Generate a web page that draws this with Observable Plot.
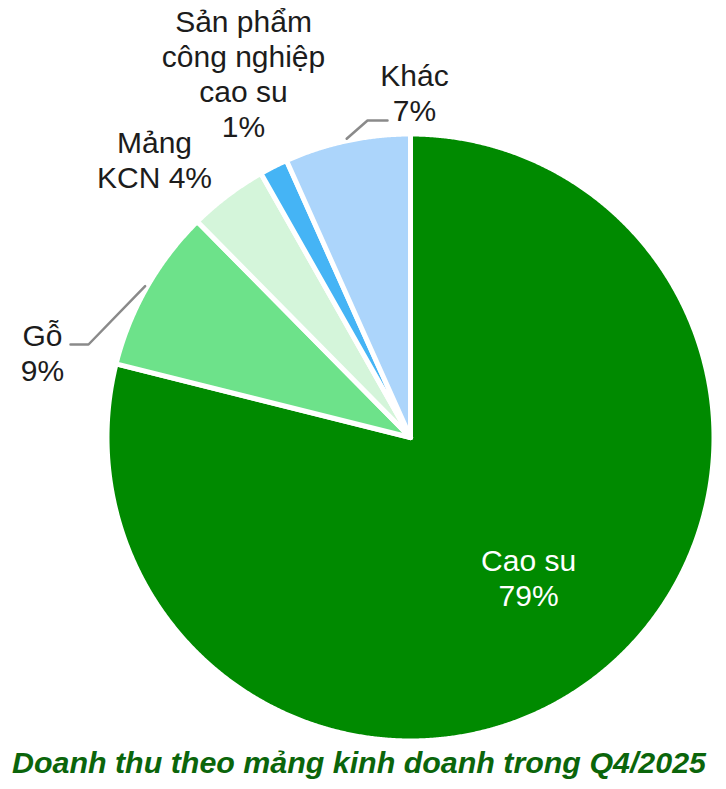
<!DOCTYPE html>
<html>
<head>
<meta charset="utf-8">
<script src="https://cdn.jsdelivr.net/npm/d3@7"></script>
<script src="https://cdn.jsdelivr.net/npm/@observablehq/plot@0.6"></script>
<style>
  html, body { margin: 0; padding: 0; background: #fff; }
  #wrap { width: 726px; }
  #title {
    width: 726px; height: 49px; line-height: 44px; text-align: center;
    font-family: "Liberation Sans", Arial, sans-serif; font-weight: bold; font-style: italic;
    font-size: 30.4px; color: #0b650b; white-space: nowrap; padding-right: 8px; box-sizing: border-box;
  }
</style>
</head>
<body>
<div id="wrap">
  <div id="chart"></div>
  <div id="title">Doanh thu theo mảng kinh doanh trong Q4/2025</div>
</div>
<script>
// ---- data ----
const categories = ["Cao su", "Gỗ", "Mảng KCN", "Sản phẩm công nghiệp cao su", "Khác"];
const values = [78.9, 8.7, 4.2, 1.5, 6.7];
const percentLabels = ["79%", "9%", "4%", "1%", "7%"];
const labelTexts = ["Cao su\n79%", "Gỗ\n9%", "Mảng\nKCN 4%", "Sản phẩm\ncông nghiệp\ncao su\n1%", "Khác\n7%"];
const colors = ["#008a00", "#6de28a", "#d4f5da", "#45b4f5", "#acd5fb"];

// ---- layout (not data) ----
const W = 726, H = 740;
const CX = 410, CY = 437, R = 303.5;
// outer label placement: offset from pie centre (px)
const outerLabelPos = {
  "Gỗ": [-368, -85],
  "Mảng KCN": [-256, -278],
  "Sản phẩm công nghiệp cao su": [-167, -364],
  "Khác": [4, -345]
};
// leader line elbows and ends (offset from centre)
const leaderPath = {
  "Gỗ": [[-322, -93], [-340, -93]],
  "Khác": [[-43, -317], [-23, -317]]
};
const innerLabelDx = 6; // small horizontal nudge for the inner label

const rows = categories.map((name, i) => ({name, value: values[i], pct: percentLabels[i], label: labelTexts[i]}));
const arcs = d3.pie().sort(null).value(d => d.value)(rows);

const pts = [];
for (const a of arcs) {
  const name = a.data.name;
  pts.push({name, x: 0, y: 0});
  const step = Math.PI / 720;
  for (let t = a.startAngle; t < a.endAngle; t += step) {
    pts.push({name, x: R * Math.sin(t), y: -R * Math.cos(t)});
  }
  pts.push({name, x: R * Math.sin(a.endAngle), y: -R * Math.cos(a.endAngle)});
  pts.push({name, x: 0, y: 0});
}

const labels = arcs.map(a => {
  const mid = (a.startAngle + a.endAngle) / 2;
  const name = a.data.name;
  if (outerLabelPos[name]) {
    return {name, text: a.data.label, x: outerLabelPos[name][0], y: outerLabelPos[name][1], fill: "#1c1c1c"};
  }
  return {name, text: a.data.label, x: 0.6 * R * Math.sin(mid) + innerLabelDx, y: -0.6 * R * Math.cos(mid) - 4, fill: "#ffffff"};
});

const leaders = [];
for (const a of arcs) {
  const name = a.data.name;
  if (!leaderPath[name]) continue;
  const mid = (a.startAngle + a.endAngle) / 2;
  const r0 = R + 2;
  leaders.push({name, x: r0 * Math.sin(mid), y: -r0 * Math.cos(mid)});
  for (const p of leaderPath[name]) leaders.push({name, x: p[0], y: p[1]});
}

const chart = Plot.plot({
  width: W, height: H, margin: 0,
  style: {background: "transparent", fontFamily: "'Liberation Sans', Arial, sans-serif"},
  x: {axis: null, domain: [-CX, W - CX], range: [0, W]},
  y: {axis: null, domain: [-CY, H - CY], range: [0, H]},
  color: {domain: categories, range: colors},
  marks: [
    Plot.line(pts, {x: "x", y: "y", z: "name", fill: "name", stroke: "white", strokeWidth: 5, strokeLinejoin: "round"}),
    Plot.line(leaders, {x: "x", y: "y", z: "name", stroke: "#8a8a8a", strokeWidth: 2.5}),
    Plot.text(labels, {x: "x", y: "y", text: "text", fill: "fill", fontSize: 30, lineHeight: 1.17, textAnchor: "middle", lineAnchor: "middle"})
  ]
});
document.getElementById("chart").appendChild(chart);
</script>
</body>
</html>
